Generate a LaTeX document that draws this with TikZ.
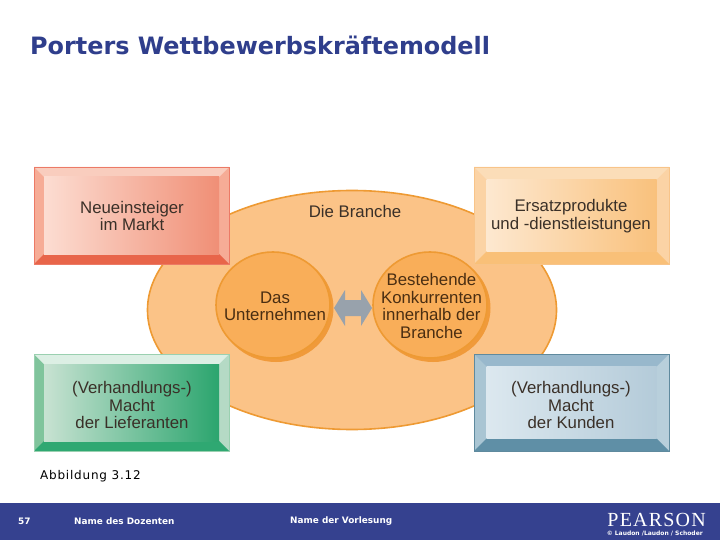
\documentclass[tikz,border=0pt]{standalone}
\usepackage{fontspec}
\setmainfont{Liberation Sans}
\newfontfamily\dejavu{DejaVu Sans}
\newfontfamily\dejavuwide[LetterSpace=6.5]{DejaVu Sans}
\newfontfamily\pearsonfont[LetterSpace=6]{Liberation Serif}
\usetikzlibrary{shapes.geometric}
\definecolor{navy}{HTML}{35418F}
\definecolor{titleblue}{HTML}{2F3E8C}
\definecolor{indus}{HTML}{FBC387}
\definecolor{indusline}{HTML}{EE9A33}
\definecolor{firm}{HTML}{F9AE59}
\definecolor{firmshadow}{HTML}{F09A3A}
\definecolor{labelc}{HTML}{3A3028}
\definecolor{circletxt}{HTML}{4A2E12}
\definecolor{arrowgray}{HTML}{98A2AC}
\tikzset{
  label text/.style={font=\fontsize{16.8}{17.6}\selectfont, text=labelc, align=center, inner sep=0pt},
  circle text/.style={label text, text=circletxt},
  small white/.style={font=\dejavu\fontsize{8.9}{10}\selectfont\bfseries, text=white, inner sep=0pt},
  firm circle/.style={ellipse, minimum width=114pt, minimum height=106pt, fill=firm, draw=indusline, line width=1.6pt, inner sep=0pt},
}
% #1 x0, #2 y0, #3 top, #4 left side, #5 bottom, #6 inner left, #7 inner right, #8 border, #9 inset; right side colour in bvsideR
\newcommand{\bevelbox}[9]{
  \definecolor{bvtop}{HTML}{#3}
  \definecolor{bvside}{HTML}{#4}
  \definecolor{bvbot}{HTML}{#5}
  \definecolor{bvleft}{HTML}{#6}
  \definecolor{bvright}{HTML}{#7}
  \definecolor{bvline}{HTML}{#8}
  \fill[bvside] (#1,#2) rectangle ++(98,97);
  \fill[bvsideR] (#1+97,#2) rectangle ++(98,97);
  \fill[bvtop] (#1,#2) -- ++(195,0) -- ++(-#9,#9) -- ++({-195+2*#9},0) -- cycle;
  \fill[bvbot] (#1,#2+97) -- ++(195,0) -- ++(-#9,-#9) -- ++({-195+2*#9},0) -- cycle;
  \shade[left color=bvleft, right color=bvright] (#1+#9,#2+#9) rectangle (#1+195-#9,#2+97-#9);
  \draw[bvline, line width=0.8pt] (#1,#2) rectangle ++(195,97);
}
\begin{document}
\begin{tikzpicture}[x=1pt,y=-1pt]
\useasboundingbox (0,0) rectangle (720,540);
\fill[white] (0,0) rectangle (720,540);
\fill[navy] (0,503) rectangle (720,540);
\node[anchor=west, inner sep=0pt, text=titleblue, font=\dejavu\fontsize{23.9}{26}\selectfont\bfseries] (title) at (30,45) {Porters Wettbewerbskräftemodell};

\node[ellipse, minimum width=409pt, minimum height=239pt, fill=indus, draw=indusline, line width=1.6pt, inner sep=0pt] (branche) at (352,310) {};

\fill[firmshadow] (276,308) ellipse (57.5 and 54);
\fill[firmshadow] (433,308) ellipse (57.5 and 54);
\node[firm circle] (firma) at (273,305) {};
\node[firm circle] (konk) at (430,305) {};
\fill[arrowgray] (334,308) -- (345,290) -- (345,300) -- (361,300) -- (361,290) -- (372,308) -- (361,326) -- (361,316) -- (345,316) -- (345,326) -- cycle;

\definecolor{bvsideR}{HTML}{F6AC96}
\bevelbox{34}{167}{F9CDBE}{F6AC96}{E8654A}{FCDDD2}{F08F76}{EC7A66}{10}
\definecolor{bvsideR}{HTML}{FBD3A5}
\bevelbox{474}{167}{FBDDB8}{FBD3A5}{F9C078}{FDE8D0}{F9C17C}{F8C489}{12.5}
\definecolor{bvsideR}{HTML}{B5DAC5}
\bevelbox{34}{354}{DCEFE4}{80C49C}{2FA872}{C8E2D2}{2BA56E}{9AD0B0}{10}
\definecolor{bvsideR}{HTML}{B8CFDB}
\bevelbox{474}{354}{98B8CC}{A9C5D3}{5F8FA6}{DCE8EF}{B4CBD9}{5F8A9E}{12.5}

\node[label text] (n1) at (132,216) {Neueinsteiger\\im Markt};
\node[label text] (n2) at (571,216) {Ersatzprodukte\\und -dienstleistungen};
\node[label text] (n3) at (132,405) {(Verhandlungs-)\\Macht\\der Lieferanten};
\node[label text] (n4) at (571,405) {(Verhandlungs-)\\Macht\\der Kunden};
\node[label text] (n5) at (355,211) {Die Branche};
\node[circle text] (n6) at (275,306.5) {Das\\Unternehmen};
\node[circle text] (n7) at (431.5,306) {Bestehende\\Konkurrenten\\innerhalb der\\Branche};

\node[anchor=west, inner sep=0pt, font=\dejavuwide\fontsize{12}{14}\selectfont, text=black] (abb) at (40,476.5) {Abbildung 3.12};
\node[small white, anchor=west] (num) at (18,521) {57};
\node[small white, anchor=west] (doz) at (74,521) {Name des Dozenten};
\node[small white, anchor=west] (vor) at (290,521) {Name der Vorlesung};
\node[anchor=east, inner sep=0pt, text=white, font=\pearsonfont\fontsize{20}{22}\selectfont] (pearson) at (706,520) {PEARSON};
\node[small white, anchor=east, font=\dejavu\fontsize{6}{7}\selectfont\bfseries] (copy) at (703,533) {© Laudon /Laudon / Schoder};
\end{tikzpicture}
\end{document}
